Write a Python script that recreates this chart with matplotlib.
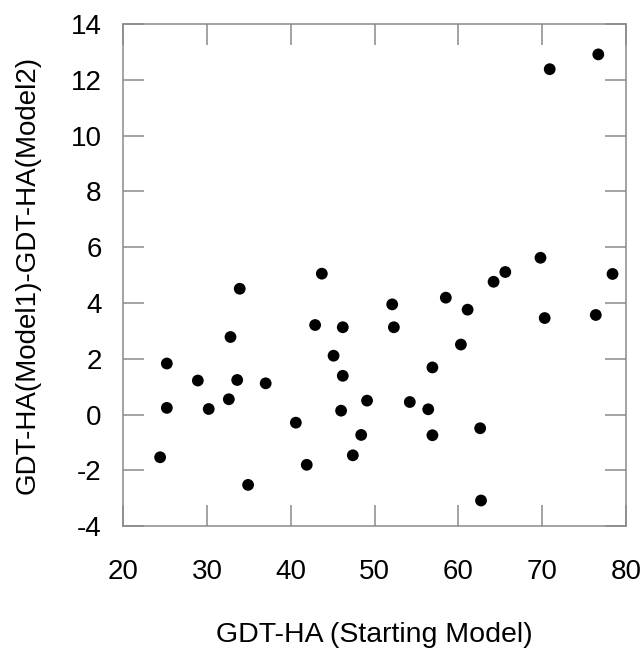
import matplotlib
matplotlib.use("Agg")
import matplotlib.pyplot as plt

plt.rcParams['font.family'] = ['Liberation Sans', 'DejaVu Sans']
plt.rcParams['axes.unicode_minus'] = False

# GDT-HA of the starting model and the GDT-HA difference between the two models
gdt_start = [25.2, 25.2, 24.4, 28.9, 30.2, 32.6, 32.8, 33.6, 33.9, 34.9,
             37.0, 40.6, 41.9, 42.9, 43.7, 45.1, 46.2, 46.2, 46.0, 47.4,
             48.4, 49.1, 52.1, 52.3, 54.2, 56.4, 56.9, 56.9, 58.5, 60.3,
             61.1, 62.6, 62.7, 64.2, 65.6, 69.8, 70.3, 76.4, 78.4, 70.9,
             76.7]
gdt_diff = [1.83, 0.24, -1.53, 1.22, 0.20, 0.55, 2.78, 1.24, 4.51, -2.52,
            1.12, -0.29, -1.80, 3.21, 5.05, 2.11, 1.39, 3.13, 0.14, -1.46,
            -0.73, 0.50, 3.95, 3.13, 0.45, 0.19, 1.69, -0.74, 4.19, 2.51,
            3.76, -0.49, -3.08, 4.76, 5.11, 5.62, 3.46, 3.57, 5.04, 12.38,
            12.91]

x_ticks = [20, 30, 40, 50, 60, 70, 80]
y_ticks = [-4, -2, 0, 2, 4, 6, 8, 10, 12, 14]

fig = plt.figure(figsize=(6.42, 6.48), dpi=100)
ax = fig.add_axes([0.192, 0.188, 0.783, 0.775])

ax.scatter(gdt_start, gdt_diff, s=72, color='black', edgecolors='none', zorder=3)

ax.set_xlim(20, 80)
ax.set_ylim(-4, 14)
ax.set_xticks(x_ticks)
ax.set_yticks(y_ticks)

edge = '#8a8a8a'
for sp in ax.spines.values():
    sp.set_color(edge)
    sp.set_linewidth(1.1)

ax.tick_params(axis='both', which='major', direction='in', length=15,
               width=1.1, color=edge, labelsize=20,
               top=True, right=True)
ax.tick_params(axis='x', pad=23.5)
ax.tick_params(axis='y', pad=15.5)

ax.set_xlabel('GDT-HA (Starting Model)', fontsize=20.5, va='center')
ax.xaxis.set_label_coords(0.5, -0.217)
ax.set_ylabel('GDT-HA(Model1)-GDT-HA(Model2)', fontsize=20, va='center')
ax.yaxis.set_label_coords(-0.191, 0.5)

fig.savefig('out.png', dpi=100)
